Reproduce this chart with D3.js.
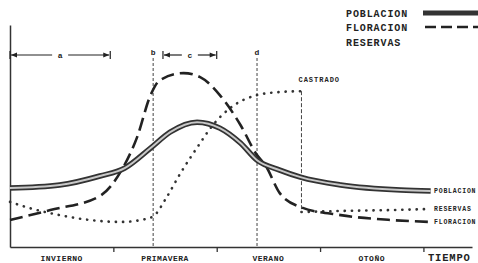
<!DOCTYPE html>
<html>
<head>
<meta charset="utf-8">
<script src="https://cdn.jsdelivr.net/npm/d3@7"></script>
<style>
  html, body { margin: 0; padding: 0; background: #fff; }
  svg { display: block; }
  text { font-family: "Liberation Mono", "DejaVu Sans Mono", monospace; font-weight: bold; fill: #222; }
</style>
</head>
<body>
<div id="viewer"></div>
<script>
// time in seasons (0 = start of winter), value in arbitrary units 0..100
var seasons = ["INVIERNO", "PRIMAVERA", "VERANO", "OTOÑO"];
var seasonTicks = [1, 2, 3, 4];

var poblacion = [
  [0, 26.8], [0.48, 28.2], [0.87, 32.3], [1.11, 35.9], [1.36, 45], [1.55, 52.3],
  [1.81, 56.8], [2.03, 54.1], [2.23, 47.3], [2.39, 39.5], [2.61, 35], [2.81, 31.8],
  [3.2, 28.2], [3.78, 25.9], [4.07, 25.5]
];
var floracion = [
  [0, 12.3], [0.39, 16.8], [0.87, 23.2], [1.08, 35], [1.23, 50], [1.36, 69.1],
  [1.45, 75.9], [1.68, 79.1], [1.84, 77.3], [2.03, 69.1], [2.23, 55.5], [2.39, 41.8],
  [2.47, 37.3], [2.61, 24.5], [2.81, 18.2], [3.2, 14.5], [3.68, 12.3], [4.07, 11.4]
];
var reservas = [
  [0, 20.5], [0.19, 17.7], [0.48, 14.5], [0.77, 12.3], [1.07, 11.4], [1.31, 12.7],
  [1.4, 14.5], [1.5, 21.4], [1.65, 33.6], [1.84, 47.3], [1.94, 54.1], [2.13, 63.2],
  [2.39, 69.1], [2.61, 70.5], [2.82, 70.9]
];
var reservasCastrado = [[2.82, 15.9], [3.2, 16.4], [3.68, 16.8], [4.07, 17.3]];

var marcas = [{label: "b", t: 1.385}, {label: "d", t: 2.39}];
var castradoT = 2.82;
var spans = [{label: "a", from: 0, to: 0.97}, {label: "c", from: 1.48, to: 2.0}];

var W = 478, H = 263;
var svg = d3.select("#viewer").append("svg").attr("width", W).attr("height", H);

var x = d3.scaleLinear().domain([0, 4.47]).range([10, 472]);
var y = d3.scaleLinear().domain([0, 101]).range([247, 25]);

var defs = svg.append("defs");
defs.append("marker").attr("id", "arr").attr("viewBox", "0 0 10 10")
  .attr("refX", 10).attr("refY", 5).attr("markerWidth", 9).attr("markerHeight", 6)
  .attr("orient", "auto-start-reverse").attr("markerUnits", "userSpaceOnUse")
  .append("path").attr("d", "M0,1 L10,5 L0,9 Z").attr("fill", "#222");

// axes
svg.append("g").attr("transform", "translate(0," + y(0) + ")")
  .call(d3.axisBottom(x).tickValues(seasonTicks).tickSize(5).tickSizeOuter(0).tickFormat(""))
  .call(function (g) { g.selectAll("path, line").attr("stroke", "#333").attr("stroke-width", 1.3); });
svg.append("g").attr("transform", "translate(" + x(0) + ",0)")
  .call(d3.axisLeft(y).tickValues([]).tickSizeOuter(0))
  .call(function (g) { g.select("path").attr("stroke", "#333").attr("stroke-width", 1.5); });

svg.selectAll(".season").data(seasons).join("text")
  .attr("x", function (d, i) { return x(i + 0.5); }).attr("y", 261)
  .attr("text-anchor", "middle").attr("font-size", 8).attr("letter-spacing", 0.5)
  .text(function (d) { return d; });
svg.append("text").attr("x", 428).attr("y", 261).attr("font-size", 10.5)
  .attr("font-family", "Liberation Serif").attr("letter-spacing", 0.8).text("TIEMPO");

// vertical markers b, d
var mk = svg.selectAll(".marca").data(marcas).join("g");
mk.append("line").attr("x1", function (d) { return x(d.t); }).attr("x2", function (d) { return x(d.t); })
  .attr("y1", 58).attr("y2", y(0)).attr("stroke", "#444").attr("stroke-width", 1)
  .attr("stroke-dasharray", "3,2");
mk.append("text").attr("x", function (d) { return x(d.t); }).attr("y", 55)
  .attr("text-anchor", "middle").attr("font-size", 8).text(function (d) { return d.label; });

// span arrows a, c
var sp = svg.selectAll(".span").data(spans).join("g");
sp.each(function (d) {
  var g = d3.select(this), x0 = x(d.from), x1 = x(d.to), xm = (x0 + x1) / 2, yy = 55;
  g.append("line").attr("x1", xm - 8).attr("x2", x0 + 1).attr("y1", yy).attr("y2", yy)
    .attr("stroke", "#222").attr("stroke-width", 1.2).attr("marker-end", "url(#arr)");
  g.append("line").attr("x1", xm + 8).attr("x2", x1 - 1).attr("y1", yy).attr("y2", yy)
    .attr("stroke", "#222").attr("stroke-width", 1.2).attr("marker-end", "url(#arr)");
  [x0, x1].forEach(function (xx) {
    g.append("line").attr("x1", xx).attr("x2", xx).attr("y1", yy - 4).attr("y2", yy + 4)
      .attr("stroke", "#222").attr("stroke-width", 1.2);
  });
  g.append("text").attr("x", xm).attr("y", yy + 3).attr("text-anchor", "middle")
    .attr("font-size", 8).text(d.label);
});

var line = d3.line().x(function (d) { return x(d[0]); }).y(function (d) { return y(d[1]); })
  .curve(d3.curveMonotoneX);

// reservas (dotted)
var dotted = function (sel) {
  return sel.attr("fill", "none").attr("stroke", "#333").attr("stroke-width", 2.6)
    .attr("stroke-linecap", "round").attr("stroke-dasharray", "0.2,7");
};
svg.append("path").datum(reservas).attr("d", line).call(dotted);
svg.append("path").datum(reservasCastrado).attr("d", line).call(dotted);
svg.append("line").attr("x1", x(castradoT)).attr("x2", x(castradoT))
  .attr("y1", y(reservas[reservas.length - 1][1])).attr("y2", y(reservasCastrado[0][1]))
  .attr("stroke", "#444").attr("stroke-width", 1).attr("stroke-dasharray", "4,2");
svg.append("text").attr("x", x(castradoT) - 3).attr("y", 82).attr("font-size", 7)
  .attr("letter-spacing", 1).text("CASTRADO");

// floracion (long dashes)
svg.append("path").datum(floracion).attr("d", line).attr("fill", "none")
  .attr("stroke", "#222").attr("stroke-width", 2.6).attr("stroke-dasharray", "13,6");

// poblacion (double line)
svg.append("path").datum(poblacion).attr("d", line).attr("fill", "none")
  .attr("stroke", "#333").attr("stroke-width", 5.5);
svg.append("path").datum(poblacion).attr("d", line).attr("fill", "none")
  .attr("stroke", "#c8c8c8").attr("stroke-width", 2);

// end labels
var ends = [
  {label: "POBLACION", v: poblacion[poblacion.length - 1][1]},
  {label: "RESERVAS", v: reservasCastrado[reservasCastrado.length - 1][1]},
  {label: "FLORACION", v: floracion[floracion.length - 1][1]}
];
svg.selectAll(".endlab").data(ends).join("text")
  .attr("x", 434).attr("y", function (d) { return y(d.v) + 2.5; })
  .attr("font-size", 6.5).attr("letter-spacing", 0.8).text(function (d) { return d.label; });

// legend
var legend = svg.append("g");
var ly = [13, 27, 42];
legend.selectAll("text").data(["POBLACION", "FLORACION", "RESERVAS"]).join("text")
  .attr("x", 346).attr("y", function (d, i) { return ly[i] + 3.5; })
  .attr("font-size", 10).attr("letter-spacing", 0.9).text(function (d) { return d; });
legend.append("line").attr("x1", 423).attr("x2", 478).attr("y1", ly[0]).attr("y2", ly[0])
  .attr("stroke", "#333").attr("stroke-width", 5);
legend.append("line").attr("x1", 425).attr("x2", 478).attr("y1", ly[1]).attr("y2", ly[1])
  .attr("stroke", "#222").attr("stroke-width", 2.5).attr("stroke-dasharray", "11,5");
</script>
</body>
</html>
